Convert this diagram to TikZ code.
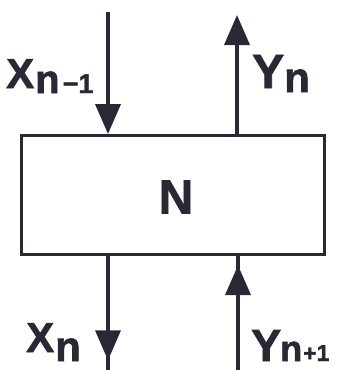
\documentclass[tikz,border=0pt]{standalone}
\usepackage{fontspec}
\setmainfont{Liberation Sans}[BoldFeatures={FakeBold=1.5}]
\usetikzlibrary{arrows.meta,decorations.markings}
\definecolor{ink}{RGB}{42,40,52}
\tikzset{
  wire/.style={line width=3.8pt, draw=ink},
  head/.style={-{Triangle[length=30pt,width=25pt]}},
  midhead/.style={postaction={decorate},decoration={markings,mark=at position #1 with {\arrow{Triangle[length=30pt,width=25pt]}}}},
  lbl/.style={text=ink, inner sep=0pt, anchor=base west, font=\bfseries},
}
\newcommand{\fsz}[1]{\fontsize{#1}{#1}\selectfont}
\begin{document}
\begin{tikzpicture}[x=1pt,y=-1pt]
\useasboundingbox (0,0) rectangle (340,370);
\fill[white] (0,0) rectangle (340,370);
\node[draw=ink, line width=3pt, minimum width=303pt, minimum height=119pt, inner sep=0pt, anchor=north west] (box) at (20,134) {};
\node[lbl, anchor=center, font=\bfseries\fsz{48}] (N) at (176,197) {N};
\coordinate (xin) at (108,12);
\coordinate (yout) at (237,15);
\coordinate (xout) at (108,370);
\coordinate (yin) at (238,370);
\draw[wire, head] (xin) -- (xin |- box.north);
\draw[wire, head] (yout |- box.north) -- (yout);
\draw[wire, midhead=0.915] (xout |- box.south) -- (xout);
\draw[wire, midhead=0.92] (yin) -- (yin |- box.south);
\node[lbl] (lxin) at (6,88) {\fsz{42}X\kern1pt\raisebox{-5pt}{\fsz{40}n\kern3pt\fsz{27}−1}};
\node[lbl] (lyout) at (252,88) {\fsz{48}Y\raisebox{-4pt}{\fsz{42}n}};
\node[lbl, text depth=0pt] (lxout) at (26,352) {\fsz{42}X\kern1pt\raisebox{-9pt}{\fsz{42}n}};
\node[lbl, text depth=0pt] (lyin) at (251,361) {\fsz{45}Y\kern-1pt\fsz{36}n\kern1pt\fsz{23}+1};
\end{tikzpicture}
\end{document}
